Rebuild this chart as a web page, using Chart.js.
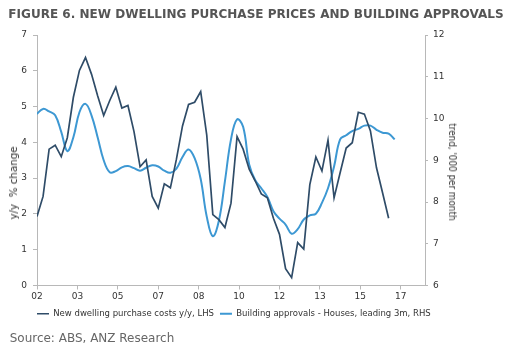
<!DOCTYPE html>
<html>
<head>
<meta charset="utf-8">
<script src="https://cdn.jsdelivr.net/npm/chart.js@4.4.0/dist/chart.umd.min.js"></script>
<style>
  html, body { margin: 0; padding: 0; background: #fff; }
  #wrap { position: relative; width: 521px; height: 358px; overflow: hidden; font-family: "DejaVu Sans", Verdana, sans-serif; }
  canvas { position: absolute; left: 0; top: 0; }
  .lbl { position: absolute; white-space: nowrap; line-height: 1; }
</style>
</head>
<body>
<div id="wrap">
  <canvas id="chart" width="521" height="358"></canvas>
  <div class="lbl" id="title" style="font-weight:bold;font-size:13px;color:#555;">FIGURE 6. NEW DWELLING PURCHASE PRICES AND BUILDING APPROVALS</div>
  <div class="lbl" id="source" style="font-size:13px;color:#666;">Source: ABS, ANZ Research</div>
  <div class="lbl" id="ytitle" style="font-size:10px;color:#333;">y/y&nbsp; % change</div>
  <div class="lbl" id="y1title" style="font-size:10px;color:#333;">trend, '000 per month</div>
</div>
<script>
// quarters, 2002Q1 onwards
var quarters = [
  "02Q1","02Q2","02Q3","02Q4","03Q1","03Q2","03Q3","03Q4","04Q1","04Q2","04Q3","04Q4",
  "05Q1","05Q2","05Q3","05Q4","06Q1","06Q2","06Q3","06Q4","07Q1","07Q2","07Q3","07Q4",
  "08Q1","08Q2","08Q3","08Q4","09Q1","09Q2","09Q3","09Q4","10Q1","10Q2","10Q3","10Q4",
  "11Q1","11Q2","11Q3","11Q4","12Q1","12Q2","12Q3","12Q4","13Q1","13Q2","13Q3","13Q4",
  "14Q1","14Q2","14Q3","14Q4","15Q1","15Q2","15Q3","15Q4","16Q1","16Q2","16Q3","16Q4"
];

// new dwelling purchase costs, y/y % (LHS)
var purchaseCosts = [
  1.93, 2.49, 3.81, 3.92, 3.60, 4.13, 5.26, 6.01, 6.37, 5.90, 5.30, 4.75,
  5.17, 5.54, 4.96, 5.03, 4.30, 3.32, 3.51, 2.49, 2.16, 2.84, 2.73, 3.53,
  4.46, 5.06, 5.12, 5.42, 4.20, 1.98, 1.84, 1.62, 2.30, 4.16, 3.81, 3.25,
  2.92, 2.56, 2.45, 1.88, 1.43, 0.47, 0.22, 1.20, 1.02, 2.82, 3.59, 3.20,
  4.06, 2.45, 3.15, 3.84, 3.99, 4.84, 4.79, 4.32, 3.29, 2.59, 1.88
];

// building approvals, houses, leading 3m, '000 per month (RHS)
var approvals = [
  10.11, 10.23, 10.17, 10.08, 9.68, 9.22, 9.55, 10.15, 10.35, 10.07, 9.55, 9.00,
  8.71, 8.74, 8.83, 8.86, 8.81, 8.75, 8.82, 8.88, 8.85, 8.75, 8.70, 8.80,
  9.08, 9.26, 9.05, 8.55, 7.65, 7.18, 7.55, 8.50, 9.50, 9.98, 9.80, 8.90,
  8.52, 8.33, 8.12, 7.78, 7.60, 7.46, 7.24, 7.35, 7.58, 7.68, 7.72, 7.98,
  8.33, 8.85, 9.50, 9.60, 9.70, 9.75, 9.83, 9.83, 9.73, 9.66, 9.64, 9.50
];

var xTickLabels = ["02", "03", "05", "07", "08", "10", "12", "13", "15", "17"];
var quartersPerTick = 20 / 3;

function place(id, cx, cy, w, rot) {
  var el = document.getElementById(id);
  var s = w / el.offsetWidth;
  el.style.left = cx + "px";
  el.style.top = cy + "px";
  el.style.transform = "translate(-50%,-50%) rotate(" + rot + "deg) scaleX(" + s + ")";
}
place("title", 255.5, 13, 495, 0);
place("source", 91.5, 337, 165, 0);
place("ytitle", 14, 183, 73, -90);
place("y1title", 452, 172, 97, 90);

function pts(arr) {
  return arr.map(function (v, i) { return { x: i, y: v }; });
}

var tickFont = { family: "DejaVu Sans", size: 9 };
var axisGrey = "#b8b8b8";

// legend starts under the left axis, not at the page edge
var legendShift = {
  id: "legendShift",
  afterLayout: function (chart) { chart.legend.left += 31; }
};

new Chart(document.getElementById("chart"), {
  type: "line",
  data: {
    labels: quarters,
    datasets: [
      {
        label: "New dwelling purchase costs y/y, LHS",
        data: pts(purchaseCosts),
        yAxisID: "y",
        borderColor: "#2f4c68",
        backgroundColor: "#2f4c68",
        borderWidth: 1.7,
        pointRadius: 0,
        tension: 0,
        fill: false
      },
      {
        label: "Building approvals - Houses, leading 3m, RHS",
        data: pts(approvals),
        yAxisID: "y1",
        borderColor: "#3d98d3",
        backgroundColor: "#3d98d3",
        borderWidth: 2,
        pointRadius: 0,
        tension: 0.4,
        fill: false
      }
    ]
  },
  plugins: [legendShift],
  options: {
    responsive: false,
    animation: false,
    layout: { padding: { left: 0, right: 0, top: 35, bottom: 30 } },
    plugins: {
      legend: {
        position: "bottom",
        align: "start",
        labels: {
          usePointStyle: true,
          pointStyle: "line",
          pointStyleWidth: 12,
          boxHeight: 8,
          padding: 6,
          color: "#333",
          font: { family: "DejaVu Sans", size: 8.5 }
        }
      },
      tooltip: { enabled: false }
    },
    scales: {
      x: {
        type: "linear",
        min: 0,
        max: 64,
        afterBuildTicks: function (scale) {
          scale.ticks = xTickLabels.map(function (t, i) { return { value: i * quartersPerTick }; });
        },
        afterFit: function (scale) { scale.height = 18; },
        ticks: {
          autoSkip: false,
          maxRotation: 0,
          padding: 2,
          color: "#333",
          font: tickFont,
          callback: function (v, i) { return xTickLabels[i]; }
        },
        grid: { drawOnChartArea: false, drawTicks: true, tickLength: 4, color: axisGrey },
        border: { display: true, color: axisGrey }
      },
      y: {
        position: "left",
        min: 0,
        max: 7,
        afterFit: function (scale) { scale.width = 37; },
        ticks: { stepSize: 1, padding: 6, color: "#333", font: tickFont },
        grid: { drawOnChartArea: false, drawTicks: true, tickLength: 4, color: axisGrey },
        border: { display: true, color: axisGrey }
      },
      y1: {
        position: "right",
        min: 6,
        max: 12,
        afterFit: function (scale) { scale.width = 96; },
        ticks: { stepSize: 1, padding: 5, color: "#333", font: tickFont },
        grid: { drawOnChartArea: false, drawTicks: true, tickLength: 3, color: axisGrey },
        border: { display: true, color: axisGrey }
      }
    }
  }
});
</script>
</body>
</html>
